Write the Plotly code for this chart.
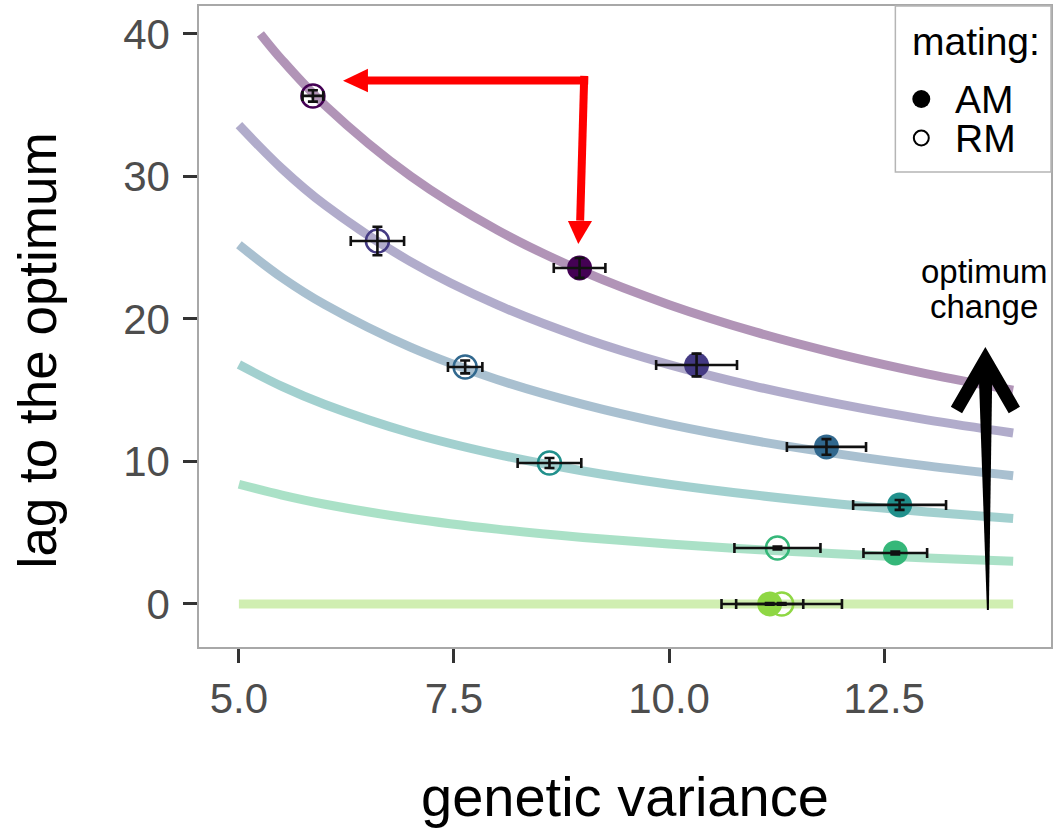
import plotly.graph_objects as go

# ---- data -------------------------------------------------------------
# optimum-change levels (one colour each)
levels = [0, 1, 2, 3, 4, 5]
level_colors = ["#8FD744", "#35B779", "#21908C", "#31688E", "#443A83", "#440154"]

# assortative mating (AM)
am_vg = [11.17, 12.63, 12.68, 11.83, 10.32, 8.96]
am_lag = [0.0, 3.58, 6.95, 11.02, 16.77, 23.58]
am_vg_err = [0.39, 0.37, 0.54, 0.46, 0.47, 0.30]
am_lag_err = [0.06, 0.10, 0.35, 0.55, 0.80, 0.70]

# random mating (RM)
rm_vg = [11.31, 11.26, 8.61, 7.63, 6.61, 5.86]
rm_lag = [0.0, 3.93, 9.89, 16.63, 25.47, 35.65]
rm_vg_err = [0.70, 0.50, 0.37, 0.20, 0.31, 0.12]
rm_lag_err = [0.06, 0.10, 0.35, 0.45, 1.00, 0.40]

# expected lag curves for each level
vg_grid = [5.0, 5.5, 6.0, 7.0, 8.0, 9.0, 10.0, 11.0, 12.0, 13.0, 14.0]
vg_grid_top = [5.25, 5.5, 6.0, 7.0, 8.0, 9.0, 10.0, 11.0, 12.0, 13.0, 14.0]
curve_lag_0 = [0.0, 0.0, 0.0, 0.0, 0.0, 0.0, 0.0, 0.0, 0.0, 0.0, 0.0]
curve_lag_1 = [8.4, 7.64, 7.0, 6.0, 5.25, 4.67, 4.2, 3.82, 3.5, 3.23, 3.0]
curve_lag_2 = [16.8, 15.27, 14.0, 12.0, 10.5, 9.33, 8.4, 7.64, 7.0, 6.46, 6.0]
curve_lag_3 = [25.2, 22.9, 21.0, 18.0, 15.75, 14.0, 12.6, 11.45, 10.5, 9.69, 9.0]
curve_lag_4 = [33.6, 30.55, 28.0, 24.0, 21.0, 18.67, 16.8, 15.27, 14.0, 12.92, 12.0]
curve_lag_5 = [40.0, 38.18, 35.0, 30.0, 26.25, 23.33, 21.0, 19.09, 17.5, 16.15, 15.0]

x_ticks = [5.0, 7.5, 10.0, 12.5]
x_tick_labels = ["5.0", "7.5", "10.0", "12.5"]
y_ticks = [0, 10, 20, 30, 40]

FONT = "Liberation Sans, Arial, sans-serif"
W, H = 1054, 830
ML, MR, MT, MB = 199, 1, 6, 183


def faded(hex_color, alpha=0.42):
    h = hex_color.lstrip("#")
    r, g, b = (int(h[i:i + 2], 16) for i in (0, 2, 4))
    return f"rgba({r},{g},{b},{alpha})"


def pxx(px):
    return (px - ML) / (W - ML - MR)


def pxy(py):
    return (H - MB - py) / (H - MT - MB)


fig = go.Figure()

# ---- expected-lag curves ------------------------------------------------
curves = [curve_lag_0, curve_lag_1, curve_lag_2, curve_lag_3, curve_lag_4, curve_lag_5]
for lvl, ys in zip(levels, curves):
    xs = vg_grid_top if lvl == 5 else vg_grid
    fig.add_trace(go.Scatter(
        x=xs, y=ys, mode="lines", line=dict(color=faded(level_colors[lvl]), width=9,
                                            shape="spline", smoothing=1.0),
        hoverinfo="skip", showlegend=False))

# ---- points -------------------------------------------------------------
fig.add_trace(go.Scatter(
    x=am_vg, y=am_lag, mode="markers", name="AM",
    marker=dict(symbol="circle", size=25, color=level_colors, line=dict(width=0)),
    showlegend=False))
fig.add_trace(go.Scatter(
    x=rm_vg, y=rm_lag, mode="markers", name="RM",
    marker=dict(symbol="circle-open", size=23, color=level_colors, line=dict(width=2.5)),
    showlegend=False))

# ---- error bars (drawn above the points) --------------------------------
for xs, ys, ex, ey in [(am_vg, am_lag, am_vg_err, am_lag_err),
                       (rm_vg, rm_lag, rm_vg_err, rm_lag_err)]:
    fig.add_trace(go.Scatter(
        x=xs, y=ys, mode="markers", marker=dict(size=1, color="rgba(0,0,0,0)"),
        error_x=dict(type="data", array=ex, color="#111111", thickness=2.6, width=5),
        error_y=dict(type="data", array=ey, color="#111111", thickness=2.6, width=5),
        hoverinfo="skip", showlegend=False))

shapes = []

# ---- red arrows: AM -> RM -----------------------------------------------
RED = "#ff0000"
shapes.append(dict(type="line", xref="x", yref="y", x0=9.06, y0=36.74, x1=6.47, y1=36.74,
                   line=dict(color=RED, width=8), layer="above"))
shapes.append(dict(type="path", xref="x", yref="y",
                   path="M 6.21,36.72 L 6.50,37.55 L 6.50,35.90 Z",
                   fillcolor=RED, line=dict(width=0), layer="above"))
shapes.append(dict(type="line", xref="x", yref="y", x0=9.014, y0=37.05, x1=8.967, y1=26.9,
                   line=dict(color=RED, width=8), layer="above"))
shapes.append(dict(type="path", xref="x", yref="y",
                   path="M 8.945,25.26 L 8.825,26.88 L 9.105,26.88 Z",
                   fillcolor=RED, line=dict(width=0), layer="above"))

# ---- black "optimum change" arrow ---------------------------------------
shapes.append(dict(type="path", xref="x", yref="y",
                   path="M 13.695,-0.42 L 13.718,-0.42 L 13.759,16.9 L 13.596,16.9 Z",
                   fillcolor="black", line=dict(width=0), layer="above"))
shapes.append(dict(type="path", xref="x", yref="y",
                   path="M 13.341,13.61 L 13.677,17.12 L 14.014,13.61",
                   fillcolor="rgba(0,0,0,0)", line=dict(color="black", width=13),
                   layer="above"))

# ---- legend box ---------------------------------------------------------
shapes.append(dict(type="rect", xref="paper", yref="paper",
                   x0=pxx(897), x1=pxx(1053), y0=pxy(172), y1=pxy(6),
                   fillcolor="white", line=dict(color="#b5b5b5", width=1.5), layer="above"))
shapes.append(dict(type="circle", xref="paper", yref="paper",
                   x0=pxx(914), x1=pxx(932), y0=pxy(108), y1=pxy(90),
                   fillcolor="black", line=dict(width=0), layer="above"))
shapes.append(dict(type="circle", xref="paper", yref="paper",
                   x0=pxx(915.5), x1=pxx(930.5), y0=pxy(145.5), y1=pxy(130.5),
                   fillcolor="rgba(0,0,0,0)", line=dict(color="black", width=2),
                   layer="above"))

annotations = [
    dict(text="mating:", x=pxx(912), y=pxy(42), xanchor="left", yanchor="middle",
         font=dict(size=39, color="black", family=FONT)),
    dict(text="AM", x=pxx(955), y=pxy(100), xanchor="left", yanchor="middle",
         font=dict(size=39, color="black", family=FONT)),
    dict(text="RM", x=pxx(955), y=pxy(139), xanchor="left", yanchor="middle",
         font=dict(size=39, color="black", family=FONT)),
    dict(text="optimum", x=pxx(986), y=pxy(271), xanchor="center", yanchor="middle",
         font=dict(size=33, color="black", family=FONT)),
    dict(text="change", x=pxx(986), y=pxy(306), xanchor="center", yanchor="middle",
         font=dict(size=33, color="black", family=FONT)),
    dict(text="genetic variance", x=pxx(626), y=pxy(797), xanchor="center", yanchor="middle",
         font=dict(size=56, color="black", family=FONT)),
    dict(text="lag to the optimum", x=pxx(37), y=pxy(350), xanchor="center", yanchor="middle",
         textangle=-90, font=dict(size=53, color="black", family=FONT)),
]
for a in annotations:
    a.update(xref="paper", yref="paper", showarrow=False)

axis_common = dict(
    showgrid=False, zeroline=False, showline=True, linecolor="#a8a8a8", linewidth=1.5,
    mirror=True, ticks="outside", ticklen=14, tickwidth=3, tickcolor="#333333",
    tickfont=dict(size=42, color="#4d4d4d", family=FONT),
)

fig.update_layout(
    width=W, height=H, autosize=False,
    margin=dict(l=ML, r=MR, t=MT, b=MB, pad=0),
    paper_bgcolor="white", plot_bgcolor="white",
    xaxis=dict(range=[4.536, 14.44], tickvals=x_ticks, ticktext=x_tick_labels, **axis_common),
    yaxis=dict(range=[-3.02, 41.96], tickvals=y_ticks, ticklabelstandoff=5, **axis_common),
    shapes=shapes, annotations=annotations, showlegend=False,
)

fig.write_html("out.html")
